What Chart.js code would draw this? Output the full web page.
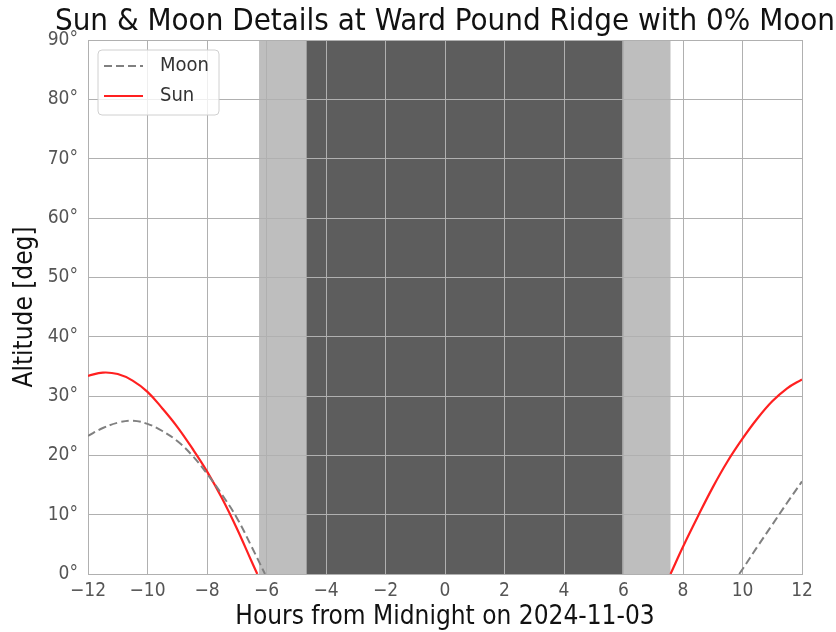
<!DOCTYPE html>
<html>
<head>
<meta charset="utf-8">
<script src="https://cdn.jsdelivr.net/npm/chart.js@4.4.0/dist/chart.umd.min.js"></script>
<style>
  body { margin: 0; background: #fff; }
  #wrap { width: 836px; height: 632px; }
</style>
</head>
<body>
<div id="wrap"><canvas id="chart_1" width="836" height="632"></canvas></div>
<script>
// hours from midnight, altitude in degrees (null = below horizon)
const sun_hours = [-12, -11.5, -11, -10.5, -10, -9.5, -9, -8.5, -8, -7.5, -7, -6.5, -6.31, null,
                   7.58, 8, 8.5, 9, 9.5, 10, 10.5, 11, 11.5, 12]
const sun_alt = [33.4, 33.95, 33.7, 32.6, 30.7, 27.9, 24.8, 21.2, 17.3, 12.8, 7.7, 2.1, 0, null,
                 0, 4.6, 9.7, 14.6, 19.0, 22.8, 26.2, 29.1, 31.3, 32.8]
const moon_hours = [-12, -11.5, -11, -10.5, -10, -9.5, -9, -8.5, -8, -7.5, -7, -6.5, -6.05, null,
                    9.89, 10, 10.5, 11, 11.5, 12]
const moon_alt = [23.3, 24.6, 25.5, 25.85, 25.3, 24.1, 22.4, 20.0, 16.9, 13.4, 9.5, 4.6, 0, null,
                  0, 0.8, 4.6, 8.3, 12.0, 15.6]

// twilight / night spans [start, end] in hours
const twilight_span = [-6.25, 7.58]
const night_span = [-4.65, 5.96]

const x_ticks = [-12, -10, -8, -6, -4, -2, 0, 2, 4, 6, 8, 10, 12]
const y_ticks = [0, 10, 20, 30, 40, 50, 60, 70, 80, 90]

const title_text = "Sun & Moon Details at Ward Pound Ridge with 0% Moon"
const font_family = "'DejaVu Sans Condensed', 'DejaVu Sans', sans-serif"

function to_points(xs, ys){
    let pts = []
    for(let i = 0; i < xs.length; i++){
        pts.push({x: xs[i] === null ? NaN : xs[i], y: ys[i]})
    }
    return pts
}

const shade_plugin = {
    id: "shade",
    beforeDraw(chart){
        const {ctx, chartArea, scales} = chart
        const x = scales.x
        ctx.save()
        ctx.fillStyle = "#bebebe"
        let a = x.getPixelForValue(twilight_span[0])
        let b = x.getPixelForValue(twilight_span[1])
        ctx.fillRect(a, chartArea.top, b - a, chartArea.bottom - chartArea.top)
        ctx.fillStyle = "#5d5d5d"
        a = x.getPixelForValue(night_span[0])
        b = x.getPixelForValue(night_span[1])
        ctx.fillRect(a, chartArea.top, b - a, chartArea.bottom - chartArea.top)
        ctx.restore()
    }
}

// title centred over the plot area (wider than it, so drawn by hand)
const title_plugin = {
    id: "plot_title",
    afterDraw(chart){
        const {ctx, chartArea} = chart
        ctx.save()
        ctx.fillStyle = "#111"
        ctx.font = "31px " + font_family
        ctx.textAlign = "center"
        ctx.textBaseline = "alphabetic"
        ctx.fillText(title_text, (chartArea.left + chartArea.right) / 2, chartArea.top - 10)
        ctx.restore()
    }
}

const legend_plugin = {
    id: "box_legend",
    afterDraw(chart){
        const {ctx, chartArea} = chart
        const left = chartArea.left + 10
        const top = chartArea.top + 10
        const w = 121, h = 65, r = 4
        ctx.save()
        ctx.beginPath()
        ctx.roundRect(left, top, w, h, r)
        ctx.fillStyle = "rgba(255,255,255,0.8)"
        ctx.fill()
        ctx.strokeStyle = "#d0d0d0"
        ctx.lineWidth = 1
        ctx.stroke()
        const items = chart.data.datasets
        items.forEach((ds, i) => {
            const y = top + 16 + i * 30
            ctx.beginPath()
            ctx.strokeStyle = ds.borderColor
            ctx.lineWidth = ds.borderWidth
            ctx.setLineDash(ds.borderDash || [])
            ctx.moveTo(left + 6, y)
            ctx.lineTo(left + 45, y)
            ctx.stroke()
            ctx.setLineDash([])
            ctx.fillStyle = "#333"
            ctx.font = "20px " + font_family
            ctx.textBaseline = "middle"
            ctx.fillText(ds.label, left + 62, y)
        })
        ctx.restore()
    }
}

const ctx_1 = document.getElementById("chart_1").getContext("2d")

const config_1 = {
    type: "line",
    data: {
        datasets: [
            {
                label: "Moon",
                data: to_points(moon_hours, moon_alt),
                borderColor: "#808080",
                borderWidth: 2,
                borderDash: [8, 4],
                pointRadius: 0,
                tension: 0.4,
                spanGaps: false
            },
            {
                label: "Sun",
                data: to_points(sun_hours, sun_alt),
                borderColor: "#ff2020",
                borderWidth: 2.2,
                pointRadius: 0,
                tension: 0.4,
                spanGaps: false
            }
        ]
    },
    options: {
        responsive: false,
        animation: false,
        layout: { padding: { top: 40, right: 34, left: 0, bottom: 0 } },
        plugins: {
            legend: { display: false },
            tooltip: { enabled: false },
            title: { display: false }
        },
        scales: {
            x: {
                type: "linear",
                min: -12,
                max: 12,
                afterBuildTicks(scale){ scale.ticks = x_ticks.map(v => ({value: v})) },
                ticks: {
                    color: "#555",
                    font: { family: font_family, size: 19 },
                    padding: 6,
                    maxRotation: 0,
                    callback: v => String(v).replace("-", "\u2212")
                },
                grid: { color: "#b0b0b0", lineWidth: 1, drawTicks: false },
                border: { color: "#b0b0b0" },
                title: {
                    display: true,
                    text: "Hours from Midnight on 2024-11-03",
                    color: "#111",
                    font: { family: font_family, size: 26, lineHeight: 1.1 },
                    padding: { top: 2, bottom: 0 }
                },
                afterFit(scale){ scale.height = 58 }
            },
            y: {
                min: 0,
                max: 90,
                afterBuildTicks(scale){ scale.ticks = y_ticks.map(v => ({value: v})) },
                ticks: {
                    color: "#555",
                    font: { family: font_family, size: 19 },
                    padding: 10,
                    callback: v => v + "\u00b0"
                },
                grid: { color: "#b0b0b0", lineWidth: 1, drawTicks: false },
                border: { color: "#b0b0b0" },
                title: {
                    display: true,
                    text: "Altitude [deg]",
                    color: "#111",
                    font: { family: font_family, size: 26, lineHeight: 1.1 },
                    padding: { top: 11, bottom: 0 }
                },
                afterFit(scale){ scale.width = 88 }
            }
        }
    },
    plugins: [shade_plugin, title_plugin, legend_plugin]
}
const chart_1 = new Chart(ctx_1, config_1)
</script>
</body>
</html>
